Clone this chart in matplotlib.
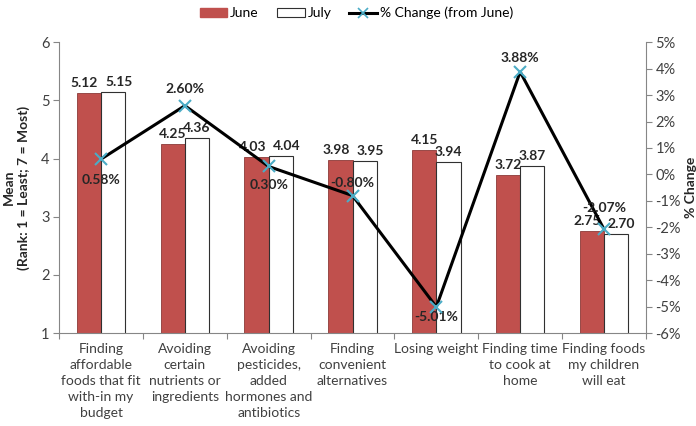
import numpy as np
import matplotlib.pyplot as plt
from matplotlib.lines import Line2D
from matplotlib.patches import Patch

plt.rcParams['font.family'] = ['Lato', 'DejaVu Sans']

categories = ['Finding\naffordable\nfoods that fit\nwith-in my\nbudget',
              'Avoiding\ncertain\nnutrients or\ningredients',
              'Avoiding\npesticides,\nadded\nhormones and\nantibiotics',
              'Finding\nconvenient\nalternatives',
              'Losing weight',
              'Finding time\nto cook at\nhome',
              'Finding foods\nmy children\nwill eat']
june = [5.12, 4.25, 4.03, 3.98, 4.15, 3.72, 2.75]
july = [5.15, 4.36, 4.04, 3.95, 3.94, 3.87, 2.70]
pct_change = [0.58, 2.60, 0.30, -0.80, -5.01, 3.88, -2.07]
# label offset (points) for each % label: negative = below marker
pct_offset = [-15, 12, -13, 9, -7, 10, 15]

red = '#C0504D'
blue = '#4BACC6'
axis_gray = '#868686'
text_gray = '#404040'

fig = plt.figure(figsize=(6.96, 4.26), dpi=100)
ax = fig.add_axes([0.085, 0.218, 0.843, 0.683])
ax2 = ax.twinx()

x = np.arange(len(categories))
w = 0.29
ax.bar(x - w / 2, june, w, bottom=0, color=red, edgecolor='#8C3A38', linewidth=0.6, zorder=2)
ax.bar(x + w / 2, july, w, bottom=0, color='white', edgecolor='#303030', linewidth=0.8, zorder=2)

# value labels; nudge the pair apart when both bars are about the same height
for xi, a, b in zip(x, june, july):
    nudge = 0.065 if abs(a - b) < 0.1 else 0.0
    ax.text(xi - w / 2 - nudge * 0.8, a + 0.07, f'{a:.2f}', ha='center', va='bottom',
            fontsize=10, fontweight='bold', color='#262626')
    ax.text(xi + w / 2 + nudge, b + 0.07, f'{b:.2f}', ha='center', va='bottom',
            fontsize=10, fontweight='bold', color='#262626')

ax.set_ylim(1, 6)
ax.set_xlim(-0.5, len(categories) - 0.5)
ax.set_yticks(range(1, 7))

ax2.plot(x, pct_change, color='black', linewidth=2.2, zorder=3)
ax2.plot(x, pct_change, linestyle='none', marker='x', markersize=8, markeredgewidth=1.5,
         color=blue, zorder=4)
for xi, v, off in zip(x, pct_change, pct_offset):
    ax2.annotate(f'{v:.2f}%', (xi, v), xytext=(0, off), textcoords='offset points',
                 ha='center', va='center', fontsize=10, fontweight='bold', color='#262626')
ax2.set_ylim(-6, 5)
ax2.set_yticks(range(-6, 6))
ax2.set_yticklabels([f'{t}%' for t in range(-6, 6)])

# category ticks sit on the boundaries, labels at the centers
ax.set_xticks(np.arange(len(categories) + 1) - 0.5)
ax.set_xticklabels([])
ax.set_xticks(x, minor=True)
ax.set_xticklabels(categories, minor=True, fontsize=10, color=text_gray, linespacing=1.4)
ax.tick_params(axis='x', which='minor', length=0, pad=7)
ax.tick_params(axis='x', which='major', length=4, color=axis_gray)

for a in (ax, ax2):
    for s in a.spines.values():
        s.set_visible(False)
    a.tick_params(axis='y', colors=text_gray, labelsize=10.5, length=4, pad=3)
    a.tick_params(axis='y', color=axis_gray)
ax.spines['left'].set_visible(True)
ax.spines['bottom'].set_visible(True)
ax2.spines['right'].set_visible(True)
ax.spines['left'].set_color(axis_gray)
ax.spines['bottom'].set_color(axis_gray)
ax2.spines['right'].set_color(axis_gray)

ax.set_ylabel('Mean\n(Rank: 1 = Least; 7 = Most)', fontsize=10, fontweight='bold',
              color='#262626', labelpad=8)
ax2.set_ylabel('% Change', fontsize=10, fontweight='bold', color='#262626', labelpad=3)

handles = [Patch(facecolor=red, edgecolor=red),
           Patch(facecolor='white', edgecolor='#303030', linewidth=0.8),
           Line2D([0], [0], color='black', linewidth=2.2, marker='x', markersize=7,
                  markeredgecolor=blue, markeredgewidth=1.2)]
fig.legend(handles, ['June', 'July', '% Change (from June)'], loc='center',
           bbox_to_anchor=(0.512, 0.969), ncol=3, frameon=False, fontsize=10,
           handlelength=2.0, handleheight=0.6, columnspacing=1.3, handletextpad=0.2)

fig.savefig('out.png', dpi=100)
